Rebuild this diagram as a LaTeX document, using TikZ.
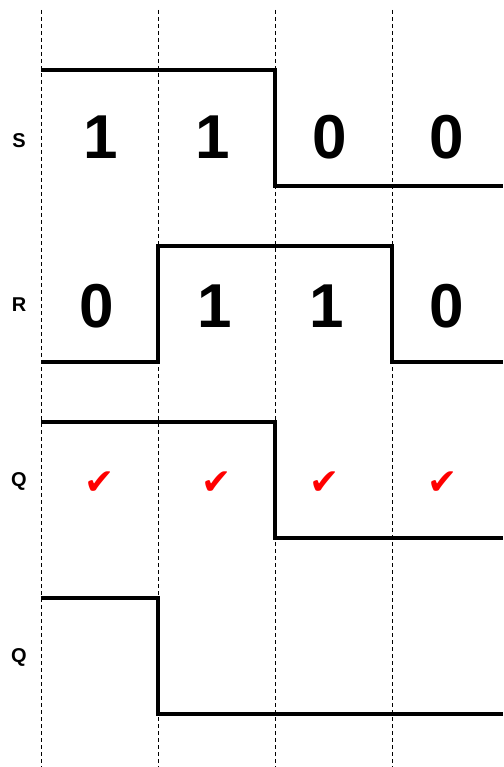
\documentclass[tikz,border=0pt]{standalone}
\usepackage{fontspec}
\setmainfont{Liberation Sans}
\newfontfamily\symfont{DejaVu Sans}
\usetikzlibrary{positioning}

\begin{document}
\begin{tikzpicture}[x=1pt,y=-1pt,
    grid/.style={dash pattern=on 4pt off 3pt,line width=0.7pt},
    wave/.style={line width=3.6pt,line join=miter},
    sig/.style={font=\bfseries\fontsize{20}{20}\selectfont},
    bit/.style={font=\bfseries\fontsize{62}{62}\selectfont},
    tick/.style={text=red,font=\symfont\fontsize{36}{36}\selectfont}]
    \useasboundingbox (0,0) rectangle (503,767);
    % time grid
    \foreach \x in {41,158,275,392} {
        \draw[grid] (\x,10) -- (\x,767);
    }
    % signal names
    \node[sig] (ls) at (19,141) {S};
    \node[sig] (lr) at (19,305) {R};
    \node[sig] (lq) at (19,481) {Q};
    \node[sig] (lqn) at (19,657) {Q};
    % waveforms
    \draw[wave] (41,70) -- (275,70) -- (275,186) -- (503,186);
    \draw[wave] (41,362) -- (158,362) -- (158,246) -- (392,246) -- (392,362) -- (503,362);
    \draw[wave] (41,422) -- (275,422) -- (275,538) -- (503,538);
    \draw[wave] (41,598) -- (158,598) -- (158,714) -- (503,714);
    % bit values
    \foreach \i/\x/\v in {1/101/1,2/213/1,3/330/0,4/447/0} {
        \node[bit] (s\i) at (\x,137) {\v};
    }
    \foreach \i/\x/\v in {1/97/0,2/215/1,3/327/1,4/447/0} {
        \node[bit] (r\i) at (\x,306) {\v};
    }
    \foreach \i/\x in {1/100,2/217,3/325,4/443} {
        \node[tick] (c\i) at (\x,483) {✔};
    }
\end{tikzpicture}
\end{document}
